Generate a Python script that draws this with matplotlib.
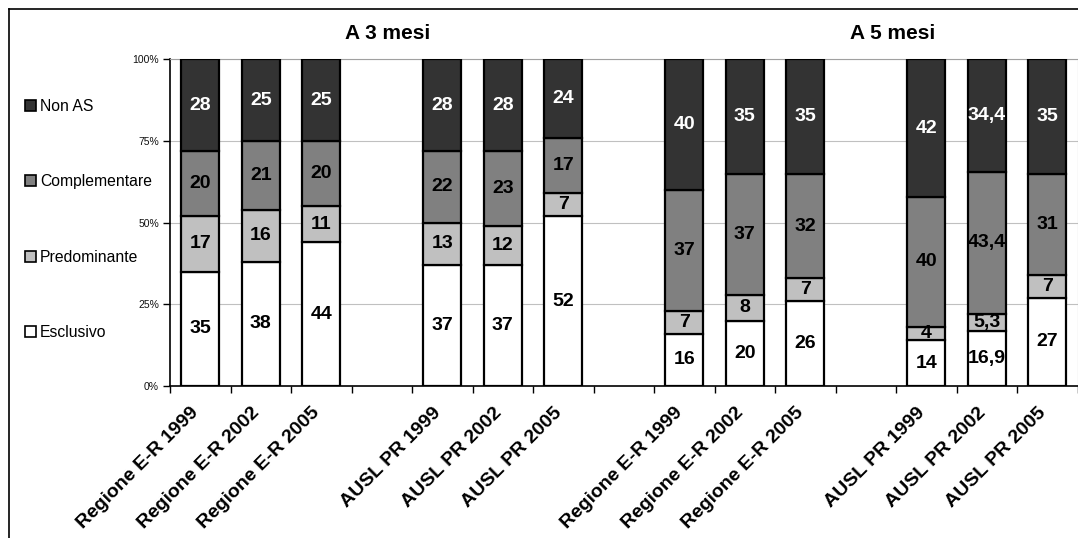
import matplotlib
matplotlib.use("Agg")
import matplotlib.pyplot as plt
from matplotlib.patches import Patch
from matplotlib.lines import Line2D
from matplotlib.transforms import ScaledTranslation

plt.rcParams['font.family'] = ['Liberation Sans', 'DejaVu Sans']

# ---- data ----
groups = ["A 3 mesi", "A 5 mesi"]
categories = ["Regione E-R 1999", "Regione E-R 2002", "Regione E-R 2005",
              "AUSL PR 1999", "AUSL PR 2002", "AUSL PR 2005",
              "Regione E-R 1999", "Regione E-R 2002", "Regione E-R 2005",
              "AUSL PR 1999", "AUSL PR 2002", "AUSL PR 2005"]
esclusivo = [35, 38, 44, 37, 37, 52, 16, 20, 26, 14, 16.9, 27]
predominante = [17, 16, 11, 13, 12, 7, 7, 8, 7, 4, 5.3, 7]
complementare = [20, 21, 20, 22, 23, 17, 37, 37, 32, 40, 43.4, 31]
non_as = [28, 25, 25, 28, 28, 24, 40, 35, 35, 42, 34.4, 35]
series_names = ["Esclusivo", "Predominante", "Complementare", "Non AS"]
yticks = [0, 25, 50, 75, 100]
ytick_labels = ["0%", "25%", "50%", "75%", "100%"]

series = [esclusivo, predominante, complementare, non_as]
colors = ["#FFFFFF", "#C0C0C0", "#808080", "#333333"]
text_colors = ["black", "black", "black", "white"]

# slot positions: 3 bars per block, blank slot between blocks
positions = [(i // 3) * 4 + (i % 3) for i in range(len(categories))]
nslots = positions[-1] + 1

W, H = 1078, 538
fig = plt.figure(figsize=(W / 100, H / 100), dpi=100)
ax = fig.add_axes([170 / W, 1 - 386 / H, (1077.5 - 170) / W, (386 - 59.5) / H])

def fmt(v):
    if float(v).is_integer():
        return str(int(v))
    return ("%.1f" % v).replace(".", ",")

bottoms = [0.0] * len(categories)
for vals, col, tcol, name in zip(series, colors, text_colors, series_names):
    ax.bar(positions, vals, bottom=bottoms, width=0.63, color=col,
           edgecolor="black", linewidth=1.6, label=name, zorder=3)
    for p, v, b in zip(positions, vals, bottoms):
        ax.text(p, b + v / 2, fmt(v), ha="center", va="center",
                fontsize=14, fontweight="bold", color=tcol, zorder=4)
    bottoms = [b + v for b, v in zip(bottoms, vals)]

ax.set_xlim(-0.5, nslots - 0.5)
ax.set_ylim(0, 100)
ax.set_yticks(yticks)
ax.set_yticklabels(ytick_labels, fontsize=7.5, color="#111111")
ax.yaxis.grid(True, color="#C0C0C0", linewidth=0.8, zorder=0)

# category boundary ticks
ax.set_xticks([x - 0.5 for x in range(nslots + 1)])
ax.set_xticklabels([])
ax.set_xticks(positions, minor=True)
ax.set_xticklabels(categories, minor=True, rotation=45, ha="right", va="top",
                   rotation_mode="anchor", fontsize=14, fontweight="bold")
ax.tick_params(axis="x", which="major", length=5, width=1, direction="out")
ax.tick_params(axis="x", which="minor", length=0, pad=13)
ax.tick_params(axis="y", length=5, width=1, direction="out", pad=3)
shift = ScaledTranslation(-10 / 100, 0, fig.dpi_scale_trans)
for lab in ax.get_xticklabels(minor=True):
    lab.set_transform(lab.get_transform() + shift)

for s in ["left", "bottom"]:
    ax.spines[s].set_linewidth(1.2)
    ax.spines[s].set_color("black")
ax.spines["top"].set_color("#A0A0A0")
ax.spines["right"].set_color("#A0A0A0")
ax.spines["top"].set_linewidth(0.8)
ax.spines["right"].set_linewidth(0.8)

# group titles
title_x = [3.1, 11.45]
for gx, g in zip(title_x, groups):
    ax.text(gx, 100 + 25.5 / 326.5 * 100, g, ha="center", va="center",
            fontsize=15, fontweight="bold", clip_on=False)

# legend
handles = [Patch(facecolor=c, edgecolor="black", linewidth=1.2) for c in colors][::-1]
labels = series_names[::-1]
fig.legend(handles, labels, loc="upper left", bbox_to_anchor=(25 / W, 1 - 99 / H),
           frameon=False, fontsize=11.3, handlelength=0.7, handleheight=0.7,
           handletextpad=0.25, labelspacing=3.85, borderaxespad=0, borderpad=0)

# outer chart border
fig.add_artist(Line2D([9 / W, 1.0], [1 - 9 / H, 1 - 9 / H], color="black", linewidth=1.2))
fig.add_artist(Line2D([9 / W, 9 / W], [1 - 9 / H, 0.0], color="black", linewidth=1.2))

fig.savefig("out.png", dpi=100)
